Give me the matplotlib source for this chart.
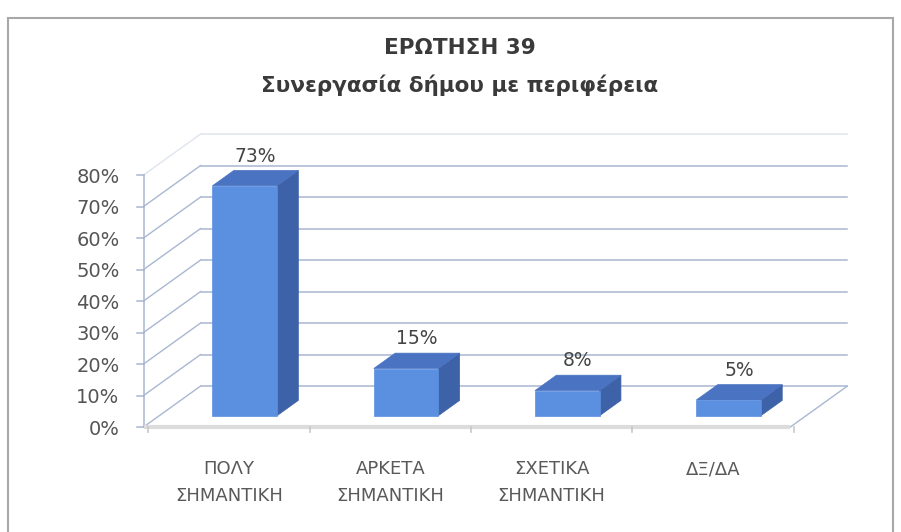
import matplotlib
matplotlib.use('Agg')
import matplotlib.pyplot as plt
from matplotlib.patches import Polygon, Rectangle

# ---------------- data ----------------
categories = ['ΠΟΛΥ\nΣΗΜΑΝΤΙΚΗ', 'ΑΡΚΕΤΑ\nΣΗΜΑΝΤΙΚΗ', 'ΣΧΕΤΙΚΑ\nΣΗΜΑΝΤΙΚΗ', 'ΔΞ/ΔΑ']
values = [73, 15, 8, 5]
value_labels = ['73%', '15%', '8%', '5%']
yticks = [0, 10, 20, 30, 40, 50, 60, 70, 80]
ytick_labels = ['0%', '10%', '20%', '30%', '40%', '50%', '60%', '70%', '80%']
title = 'ΕΡΩΤΗΣΗ 39'
subtitle = 'Συνεργασία δήμου με περιφέρεια'

# ---------------- style ----------------
plt.rcParams['font.family'] = ['DejaVu Sans']
W, H = 901, 532
fig = plt.figure(figsize=(W / 100, H / 100), dpi=100)
fig.patch.set_facecolor('white')
ax = fig.add_axes([0, 0, 1, 1])
ax.set_xlim(-1.42, 4.166)
ax.set_ylim(-33.33, 135.56)
ax.axis('off')

# oblique pseudo-3D projection (x in category units, v in %, d = depth 0..1)
KX, KY = 0.3534, 13.0


def P(x, v, d):
    return (x + KX * d, KY * d + v)


xl, xr = -0.53, 3.48
vmax = yticks[-1]
grid_c = '#a9b7d2'
faint_c = '#e0e4ec'
axis_c = '#a9b6cf'

# back wall grid lines + left wall lines
for v in yticks:
    a = P(xl, v, 1)
    b = P(xr, v, 1)
    col = faint_c if v == vmax else grid_c
    ax.plot([a[0], b[0]], [a[1], b[1]], color=col, lw=1.1, zorder=1)
    c = P(xl, v, 0)
    ax.plot([c[0], a[0]], [c[1], a[1]], color=col, lw=1.0, zorder=1)

# floor right edge
a = P(xr, 0, 0)
b = P(xr, 0, 1)
ax.plot([a[0], b[0]], [a[1], b[1]], color=grid_c, lw=1.0, zorder=1)

# front vertical axis + ticks + labels
a = P(xl, 0, 0)
b = P(xl, vmax, 0)
ax.plot([a[0], b[0]], [a[1], b[1]], color=axis_c, lw=1.1, zorder=2)
for v, lab in zip(yticks, ytick_labels):
    p = P(xl, v, 0)
    ax.plot([p[0] - 0.04, p[0]], [p[1], p[1]], color=axis_c, lw=1.1, zorder=2)
    ax.annotate(lab, xy=p, xytext=(-24, -2), textcoords='offset pixels',
                ha='right', va='center', fontsize=14, color='#555555')

# category axis line (front floor edge)
a = P(xl, 0, 0)
b = P(xr, 0, 0)
ax.plot([a[0], b[0]], [a[1], b[1]], color='#dcdcdc', lw=3, zorder=2,
        solid_capstyle='butt')
for k in range(len(categories) + 1):
    p = P(k - 0.5, 0, 0)
    ax.plot([p[0], p[0]], [p[1], p[1] - 1.6], color='#c8c8c8', lw=1.2, zorder=2)

# bars
front_c = '#5b8fe0'
top_c = '#4a73c2'
side_c = '#3e62a8'
hw = 0.2
d0, d1 = 0.275, 0.65
for i, v in enumerate(values):
    x0, x1 = i - hw, i + hw
    front = [P(x0, 0, d0), P(x1, 0, d0), P(x1, v, d0), P(x0, v, d0)]
    top = [P(x0, v, d0), P(x1, v, d0), P(x1, v, d1), P(x0, v, d1)]
    side = [P(x1, 0, d0), P(x1, 0, d1), P(x1, v, d1), P(x1, v, d0)]
    for poly, col in ((side, side_c), (top, top_c), (front, front_c)):
        ax.add_patch(Polygon(poly, closed=True, facecolor=col,
                             edgecolor=col, lw=0.5, zorder=5))
    lp = P(i, v, (d0 + d1) / 2)
    ax.annotate(value_labels[i], xy=lp, xytext=(0, 22), textcoords='offset pixels',
                ha='center', va='center', fontsize=13.5, color='#444444', zorder=6)

# category labels
for i, lab in enumerate(categories):
    p = P(i, 0, 0)
    ax.annotate(lab, xy=p, xytext=(0, -33), textcoords='offset pixels',
                ha='center', va='top', fontsize=13, color='#595959',
                linespacing=1.65)

# titles
fig.text(460 / W, 1 - 48 / H, title, ha='center', va='center',
         fontsize=15.5, fontweight='bold', color='#3a3a3a')
fig.text(460 / W, 1 - 85 / H, subtitle, ha='center', va='center',
         fontsize=15.5, fontweight='bold', color='#3a3a3a')

# outer border
fig.patches.append(Rectangle((8 / W, -0.02), 885 / W, 1 - 18 / H + 0.02,
                             transform=fig.transFigure, fill=False,
                             edgecolor='#a8a8a8', lw=1.5))

fig.savefig('out.png', dpi=100)
